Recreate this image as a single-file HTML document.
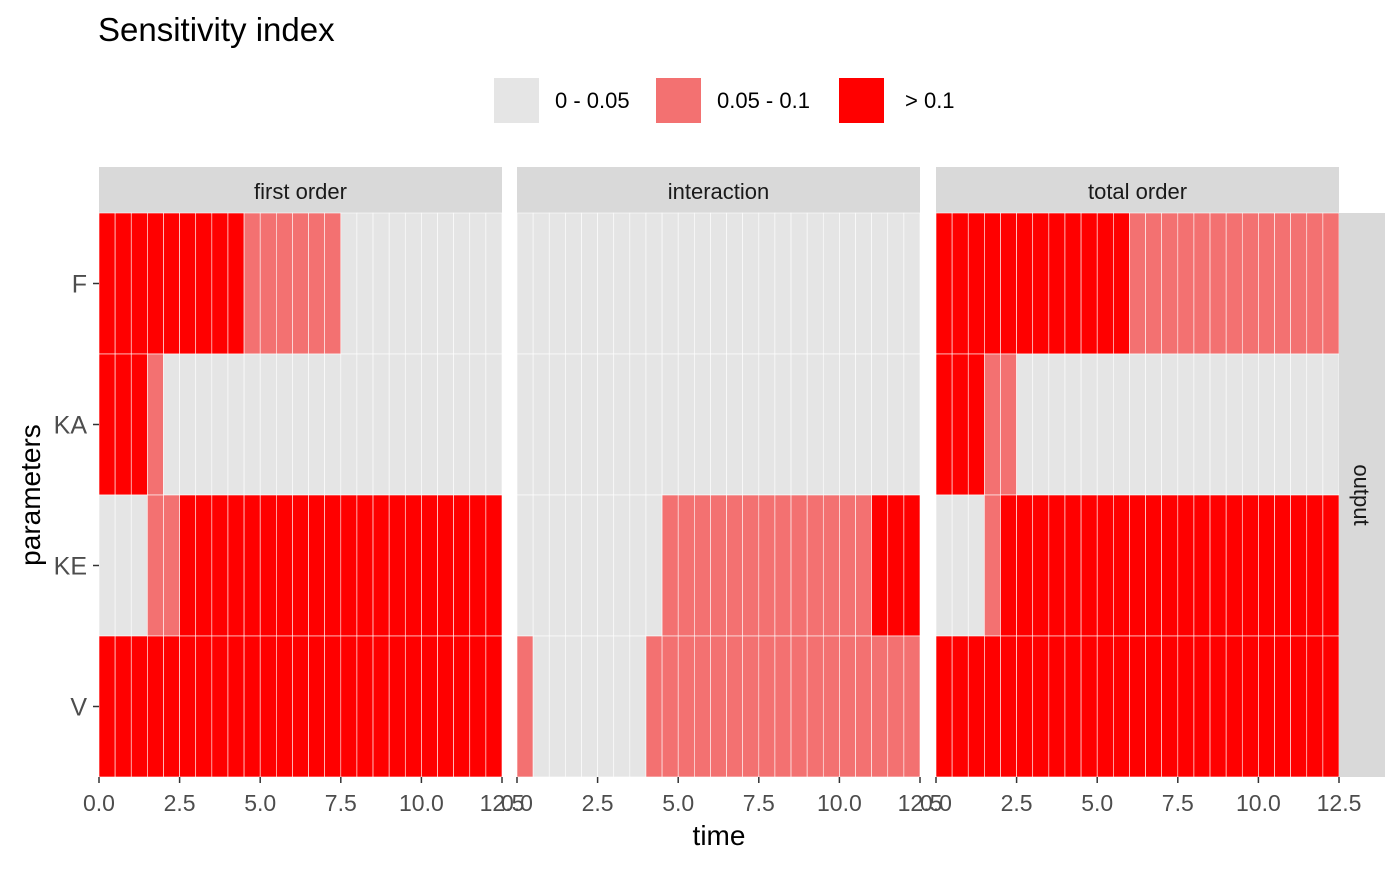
<!DOCTYPE html>
<html><head><meta charset="utf-8"><style>
body{margin:0;background:#fff;width:1400px;height:866px;overflow:hidden}
svg text{font-family:"Liberation Sans",sans-serif}
</style></head><body>
<svg id="c" width="1400" height="866" xmlns="http://www.w3.org/2000/svg">
<text x="98" y="41" font-size="33" fill="#000">Sensitivity index</text>
</svg>
<script>
const panels=["first order","interaction","total order"];
const params=["F","KA","KE","V"];
const legendLabels=["0 - 0.05","0.05 - 0.1","> 0.1"];
const xTicks=[0,2.5,5,7.5,10,12.5];
// run-length: [category, count] (0 = 0-0.05, 1 = 0.05-0.1, 2 = >0.1), 25 time steps of 0.5
const firstF=[[2,9],[1,6],[0,10]];
const firstKA=[[2,3],[1,1],[0,21]];
const firstKE=[[0,3],[1,2],[2,20]];
const firstV=[[2,25]];
const interF=[[0,25]];
const interKA=[[0,25]];
const interKE=[[0,9],[1,13],[2,3]];
const interV=[[1,1],[0,7],[1,17]];
const totalF=[[2,12],[1,13]];
const totalKA=[[2,3],[1,2],[0,20]];
const totalKE=[[0,3],[1,1],[2,21]];
const totalV=[[2,25]];
const panelData=[[firstF,firstKA,firstKE,firstV],[interF,interKA,interKE,interV],[totalF,totalKA,totalKE,totalV]];
const colors=["#E5E5E5","#F37171","#FF0000"];
const step=0.5, xMax=12.5;
const panelX=[99,517,936], panelW=403, plotTop=213, rowH=141;
const svg=document.getElementById('c');
const NS="http://www.w3.org/2000/svg";
function el(t,a,p){const e=document.createElementNS(NS,t);for(const k in a)e.setAttribute(k,a[k]);(p||svg).appendChild(e);return e;}
function xs(p,v){return panelX[p]+v/xMax*panelW;}
function ys(i){return plotTop+i*rowH;}
const lx=[494,656,839];
legendLabels.forEach((l,i)=>{
 const r=el('rect',{x:lx[i],y:78,width:45,height:45,fill:colors[i]});
 
 
 const t=el('text',{x:lx[i]+(i==2?66:61),y:108,'font-size':22,fill:'#000'});t.textContent=l;
 
 
});
panels.forEach((name,p)=>{
 const s=el('rect',{x:panelX[p],y:167,width:panelW,height:46,fill:'#D9D9D9'});
 
 
 const st=el('text',{x:panelX[p]+panelW/2,y:199,'font-size':22,fill:'#1a1a1a','text-anchor':'middle'});st.textContent=name;
 
 
 panelData[p].forEach((runs,r)=>{
  let k=0;
  runs.forEach(([cat,n])=>{
   for(let j=0;j<n;j++,k++){
    const x0=xs(p,k*step),x1=xs(p,(k+1)*step);
    const c=el('rect',{x:x0,y:ys(r),width:x1-x0,height:rowH,fill:colors[cat],stroke:'#fff','stroke-width':0.6});
    
    
   }
  });
 });
 xTicks.forEach(v=>{
  const x=xs(p,v);
  el('line',{x1:x,x2:x,y1:777,y2:783,stroke:'#333','stroke-width':1.5});
  const t=el('text',{x:x,y:811,'font-size':23,fill:'#4d4d4d','text-anchor':'middle'});t.textContent=v.toFixed(1);
  
  
 });
});
params.forEach((pr,i)=>{
 const y=ys(i)+rowH/2;
 el('line',{x1:93,x2:99,y1:y,y2:y,stroke:'#333','stroke-width':1.5});
 const t=el('text',{x:87,y:y+9,'font-size':25,fill:'#4d4d4d','text-anchor':'end'});t.textContent=pr;
 
 
});
const rs=el('rect',{x:1339,y:213,width:46,height:564,fill:'#D9D9D9'});


const rt=el('text',{x:0,y:0,'font-size':22,fill:'#1a1a1a','text-anchor':'middle',transform:'translate(1354,495) rotate(90)'});rt.textContent='output';


const xt=el('text',{x:719,y:845,'font-size':28,fill:'#000','text-anchor':'middle'});xt.textContent='time';


const yt=el('text',{x:0,y:0,'font-size':28,fill:'#000','text-anchor':'middle',transform:'translate(40,495) rotate(-90)'});yt.textContent='parameters';


</script>
</body></html>
